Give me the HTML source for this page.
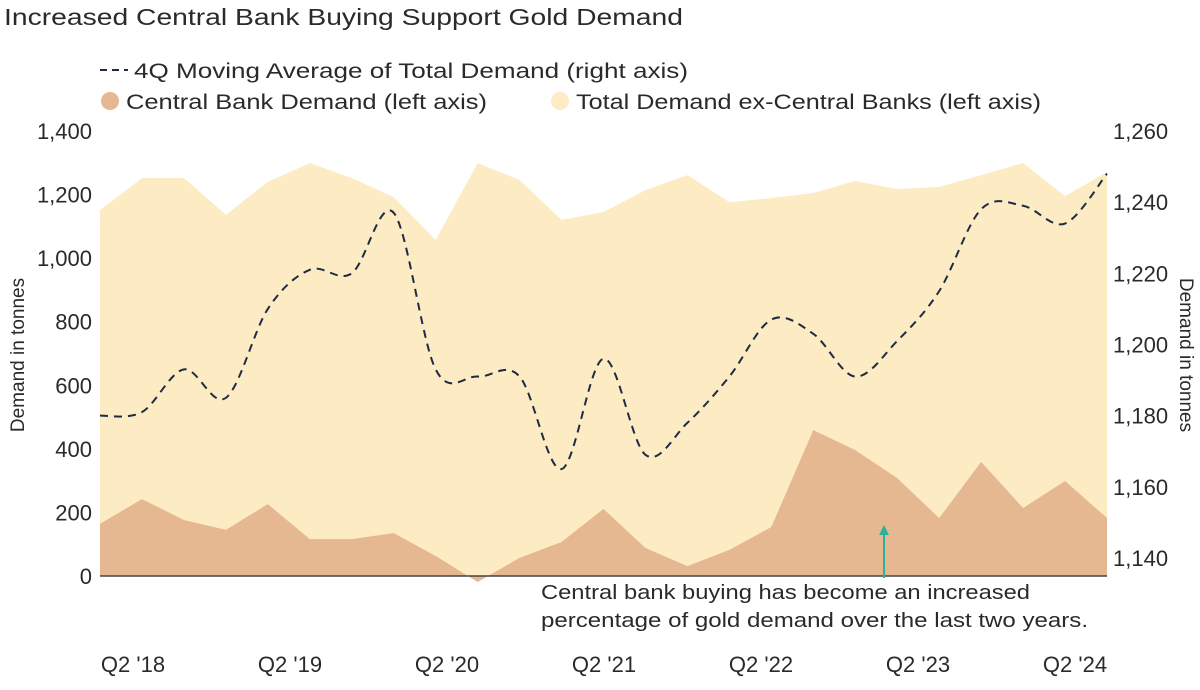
<!DOCTYPE html>
<html><head><meta charset="utf-8"><style>
body{margin:0;background:#fff;font-family:"Liberation Sans",sans-serif;}
svg text{font-family:"Liberation Sans",sans-serif;fill:#2a2a2a;}
</style></head><body>
<svg id="c" width="1200" height="685" viewBox="0 0 1200 685">
<text x="4" y="25" font-size="23" textLength="679" lengthAdjust="spacingAndGlyphs">Increased Central Bank Buying Support Gold Demand</text>
<g>
<line x1="100" y1="70" x2="128" y2="70" stroke="#1f2a44" stroke-width="2" stroke-dasharray="7,5"/>
<text x="134" y="78" font-size="21" textLength="554" lengthAdjust="spacingAndGlyphs">4Q Moving Average of Total Demand (right axis)</text>
<circle cx="110" cy="101" r="9" fill="#E5B891"/>
<text x="126" y="109" font-size="21" textLength="361" lengthAdjust="spacingAndGlyphs">Central Bank Demand (left axis)</text>
<circle cx="560" cy="101" r="9" fill="#FCEBC3"/>
<text x="576" y="109" font-size="21" textLength="465" lengthAdjust="spacingAndGlyphs">Total Demand ex-Central Banks (left axis)</text>
</g>
<g id="plot"></g>
<text transform="translate(24,355) rotate(-90)" text-anchor="middle" font-size="19">Demand in tonnes</text>
<text transform="translate(1180,355) rotate(90)" text-anchor="middle" font-size="19">Demand in tonnes</text>
<line x1="884" y1="578" x2="884" y2="532" stroke="#2bb39a" stroke-width="2"/>
<polygon points="884,525 879,535 889,535" fill="#2bb39a"/>
<text x="541" y="599" font-size="20" textLength="489" lengthAdjust="spacingAndGlyphs">Central bank buying has become an increased</text>
<text x="541" y="627" font-size="20" textLength="547" lengthAdjust="spacingAndGlyphs">percentage of gold demand over the last two years.</text>
</svg>
<script>
const quarters=["Q2 '18","Q3 '18","Q4 '18","Q1 '19","Q2 '19","Q3 '19","Q4 '19","Q1 '20","Q2 '20","Q3 '20","Q4 '20","Q1 '21","Q2 '21","Q3 '21","Q4 '21","Q1 '22","Q2 '22","Q3 '22","Q4 '22","Q1 '23","Q2 '23","Q3 '23","Q4 '23","Q1 '24","Q2 '24"];
const totalDemand=[1151,1252,1252,1136,1240,1299,1252,1192,1057,1299,1246,1120,1145,1214,1261,1176,1189,1205,1243,1217,1224,1261,1299,1195,1271];
const centralBank=[164,242,176,145,226,116,116,135,63,-19,57,107,211,88,31,82,154,459,396,308,182,359,214,299,182];
const movingAvg=[1180,1181,1193,1185,1210,1221,1220,1237,1193,1191,1191,1165,1196,1169,1178,1191,1207,1203,1191,1201,1215,1238,1239,1234,1248];
const leftTicks=[0,200,400,600,800,1000,1200,1400];
const rightTicks=[1140,1160,1180,1200,1220,1240,1260];
const xLabels=["Q2 '18","Q2 '19","Q2 '20","Q2 '21","Q2 '22","Q2 '23","Q2 '24"];
const NS="http://www.w3.org/2000/svg";
const g=document.getElementById('plot');
const X0=100,X1=1107,Y0=576,Y1=131;
const x=i=>X0+(X1-X0)*i/(quarters.length-1);
const yl=v=>Y0-(Y0-Y1)*v/1400;
const yr=v=>558-(558-131)*(v-1140)/120;
function mk(t,a){const e=document.createElementNS(NS,t);for(const k in a)e.setAttribute(k,a[k]);g.appendChild(e);return e;}
let d="M"+x(0)+","+yl(0);totalDemand.forEach((v,i)=>d+=" L"+x(i)+","+yl(v));d+=" L"+x(quarters.length-1)+","+yl(0)+"Z";
const a1=mk('path',{d:d,fill:"#FCEBC3"});


d="M"+x(0)+","+yl(0);centralBank.forEach((v,i)=>d+=" L"+x(i)+","+yl(v));d+=" L"+x(quarters.length-1)+","+yl(0)+"Z";
const a2=mk('path',{d:d,fill:"#E5B891"});


const zl=mk('line',{x1:X0,y1:Y0,x2:X1,y2:Y0,stroke:"#444","stroke-width":1.5});


const pts=movingAvg.map((v,i)=>[x(i),yr(v)]);
d="M"+pts[0][0]+","+pts[0][1];
for(let i=0;i<pts.length-1;i++){const p0=pts[Math.max(0,i-1)],p1=pts[i],p2=pts[i+1],p3=pts[Math.min(pts.length-1,i+2)];
d+=" C"+(p1[0]+(p2[0]-p0[0])/6)+","+(p1[1]+(p2[1]-p0[1])/6)+" "+(p2[0]-(p3[0]-p1[0])/6)+","+(p2[1]-(p3[1]-p1[1])/6)+" "+p2[0]+","+p2[1];}
const ml=mk('path',{d:d,fill:"none",stroke:"#1f2a44","stroke-width":2,"stroke-dasharray":"8,6"});


leftTicks.forEach(v=>{const t=mk('text',{x:92,y:yl(v)+8,"text-anchor":"end","font-size":22});t.textContent=v.toLocaleString('en-US');

});
rightTicks.forEach(v=>{const t=mk('text',{x:1113,y:yr(v)+8,"font-size":22});t.textContent=v.toLocaleString('en-US');

});
xLabels.forEach((s,i)=>{const cx=133+i*(1075-133)/(xLabels.length-1);const t=mk('text',{x:cx,y:672,"text-anchor":"middle","font-size":22});t.textContent=s;

});
</script>
</body></html>
